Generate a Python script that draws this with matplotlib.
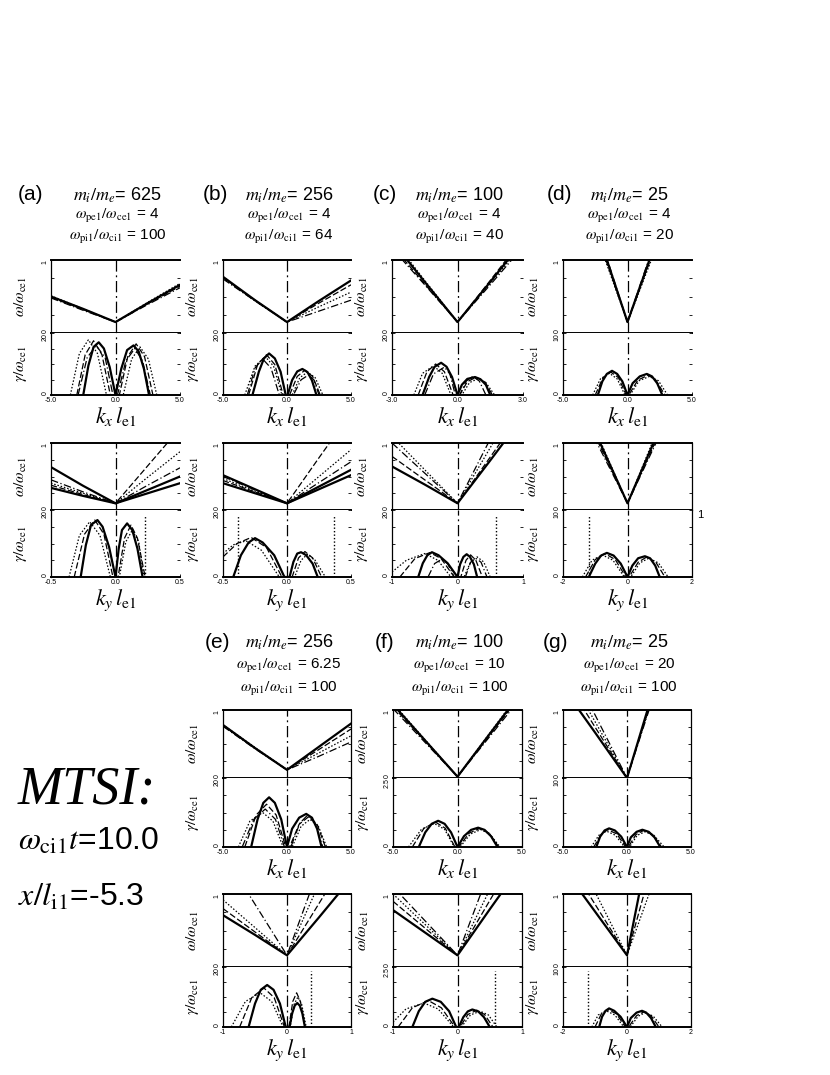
import matplotlib.pyplot as plt

plt.rcParams['mathtext.fontset'] = 'stix'
plt.rcParams['font.family'] = ['Liberation Sans', 'DejaVu Sans']

# ---------------- data ----------------
# omega curves: one k grid per panel, omega/omega_ce1 per curve
# gamma curves: (k list, gamma list) per curve, vertical cut lines in k

# (a) mi/me = 625
a_kx = [-5, -2.5, 0, 2.5, 5]
a_kx_w = [[0.50, 0.33, 0.15, 0.41, 0.66],
          [0.49, 0.32, 0.15, 0.40, 0.64],
          [0.51, 0.33, 0.15, 0.42, 0.68],
          [0.48, 0.31, 0.15, 0.39, 0.62]]
a_kx_g = [([-2.5, -2.1, -1.7, -1.3, -0.9, -0.45, 0, 0.45, 0.9, 1.4, 1.8, 2.2, 2.6],
           [0, 9.5, 15.5, 17, 15, 9, 0, 8.5, 14.5, 16, 14, 8.5, 0]),
          ([-3.0, -2.35, -1.7, -1.05, -0.4, 0.3, 0.95, 1.6, 2.25, 2.9], [0, 13, 17.5, 13, 0, 0, 12.4, 16.5, 12.4, 0]),
          ([-3.5, -2.8, -2.1, -1.4, -0.7, 0.6, 1.25, 1.9, 2.55, 3.2], [0, 13.4, 17.8, 13.4, 0, 0, 11.6, 15.5, 11.6, 0]),
          ([-2.9, -2.2, -1.5, -0.8, -0.2, 0.15, 0.8, 1.5, 2.1, 2.7], [0, 12, 16, 12, 0, 0, 11, 15, 11, 0])]
a_ky = [-0.5, -0.25, 0, 0.25, 0.5]
a_ky_w = [[0.33, 0.21, 0.10, 0.25, 0.40],
          [0.37, 0.23, 0.10, 0.66, 1.22],
          [0.40, 0.25, 0.10, 0.49, 0.87],
          [0.45, 0.27, 0.10, 0.37, 0.63],
          [0.64, 0.36, 0.10, 0.30, 0.50]]
a_ky_g = [([-0.27, -0.23, -0.19, -0.14, -0.1, -0.05, 0, 0.025, 0.05, 0.09, 0.13, 0.17, 0.21],
           [0, 9.5, 15.5, 17, 15, 9, 0, 8.5, 14, 16, 14, 8.5, 0]),
          ([-0.32, -0.24, -0.16, -0.09, -0.02, 0.02, 0.07, 0.12, 0.17, 0.23], [0, 12.8, 17, 12.8, 0, 0, 11.6, 15.5, 11.6, 0]),
          ([-0.36, -0.28, -0.2, -0.12, -0.04, 0.03, 0.08, 0.13, 0.18, 0.22], [0, 12.4, 16.5, 12.4, 0, 0, 10.5, 14, 10.5, 0])]
a_cut = [0.23]

# (b) mi/me = 256
b_kx = [-5, -2.5, 0, 2.5, 5]
b_kx_w = [[0.77, 0.45, 0.15, 0.44, 0.72],
          [0.76, 0.45, 0.15, 0.41, 0.66],
          [0.75, 0.44, 0.15, 0.36, 0.56],
          [0.74, 0.44, 0.15, 0.30, 0.45]]
b_kx_g = [([-2.7, -2.2, -1.8, -1.4, -0.95, -0.5, -0.1, 0.05, 0.4, 0.8, 1.2, 1.6, 1.95, 2.3],
           [0, 7.5, 11.8, 13.4, 11.8, 7.5, 0, 0, 4.8, 7.6, 8.4, 7.4, 4.7, 0]),
          ([-3.0, -2.3, -1.6, -0.95, -0.3, 0.2, 0.8, 1.4, 2.0, 2.6], [0, 9.8, 13, 9.8, 0, 0, 6, 8, 6, 0]),
          ([-3.3, -2.5, -1.7, -1.05, -0.4, 0.4, 1.0, 1.6, 2.2, 2.8], [0, 9.3, 12.4, 9.3, 0, 0, 5.6, 7.4, 5.6, 0]),
          ([-3.1, -2.5, -1.9, -1.25, -0.6, 0.5, 1.1, 1.7, 2.1, 2.5], [0, 8.7, 11.6, 8.7, 0, 0, 4.9, 6.5, 4.9, 0])]
b_ky = [-0.5, -0.25, 0, 0.25, 0.5]
b_ky_w = [[0.40, 0.25, 0.10, 0.31, 0.52],
          [0.44, 0.27, 0.10, 0.78, 1.45],
          [0.47, 0.28, 0.10, 0.50, 0.90],
          [0.50, 0.30, 0.10, 0.41, 0.72],
          [0.52, 0.31, 0.10, 0.35, 0.60]]
b_ky_g = [([-0.42, -0.36, -0.3, -0.25, -0.19, -0.1, -0.02, 0.02, 0.05, 0.08, 0.11, 0.15, 0.2, 0.24],
           [0, 6.5, 10.3, 11.6, 10.3, 6.5, 0, 0, 4.5, 7, 7.4, 6.5, 4, 0]),
          ([-0.5, -0.39, -0.28, -0.16, -0.04, 0.04, 0.09, 0.14, 0.2, 0.27], [6, 10, 11.8, 8.8, 0, 0, 5.7, 7.6, 5.7, 0]),
          ([-0.5, -0.42, -0.32, -0.2, -0.06, 0.06, 0.11, 0.16, 0.22, 0.3], [7, 9.6, 10.8, 8, 0, 0, 5, 6.8, 5, 0])]
b_cut = [-0.38, 0.37]

# (c) mi/me = 100
c_kx = [-3, -1.5, 0, 1.5, 3]
c_kx_w = [[1.26, 0.70, 0.15, 0.70, 1.26],
          [1.20, 0.67, 0.15, 0.72, 1.30],
          [1.30, 0.72, 0.15, 0.68, 1.22],
          [1.16, 0.66, 0.15, 0.66, 1.18]]
c_kx_g = [([-1.6, -1.3, -1.05, -0.75, -0.5, -0.25, 0, 0.2, 0.45, 0.8, 1.05, 1.3, 1.5],
           [0, 5.8, 9.1, 10.4, 9.1, 5.8, 0, 3.3, 5.2, 5.8, 5.1, 3.3, 0]),
          ([-1.8, -1.4, -1.0, -0.6, -0.2, 0.1, 0.45, 0.85, 1.25, 1.6], [0, 7.5, 10, 7.5, 0, 0, 4.3, 5.7, 4.3, 0]),
          ([-2.0, -1.6, -1.1, -0.7, -0.3, 0.2, 0.55, 0.95, 1.3, 1.7], [0, 7, 9.4, 7, 0, 0, 4, 5.3, 4, 0]),
          ([-1.5, -1.1, -0.6, -0.35, -0.1, 0.1, 0.4, 0.7, 1.0, 1.3], [0, 6.8, 9, 6.8, 0, 0, 4.5, 6, 4.5, 0])]
c_ky = [-1, -0.5, 0, 0.5, 1]
c_ky_w = [[0.65, 0.38, 0.10, 0.74, 1.39],
          [0.80, 0.45, 0.10, 0.79, 1.48],
          [1.10, 0.60, 0.10, 0.93, 1.77],
          [1.00, 0.55, 0.10, 1.06, 2.00]]
c_ky_g = [([-0.6, -0.53, -0.46, -0.39, -0.29, -0.15, 0, 0.04, 0.09, 0.14, 0.19, 0.25, 0.3],
           [0, 4.1, 6.5, 7.4, 6.5, 4.1, 0, 3.8, 6.0, 6.8, 6.0, 3.8, 0]),
          ([-0.88, -0.65, -0.42, -0.25, -0.05, 0.05, 0.13, 0.2, 0.28, 0.38], [0, 5.5, 7.3, 5.5, 0, 0, 5, 6.6, 5, 0]),
          ([-1.0, -0.78, -0.5, -0.3, -0.1, 0.1, 0.2, 0.3, 0.4, 0.5], [1.5, 5, 7, 5, 0, 0, 4.5, 6, 4.5, 0]),
          ([-0.45, -0.35, -0.25, -0.15, -0.05, 0.12, 0.2, 0.28, 0.36, 0.45], [0, 4, 5.2, 4, 0, 0, 4.4, 5.6, 4.4, 0])]
c_cut = [0.59]

# (d) mi/me = 25
d_kx = [-5, -2.5, 0, 2.5, 5]
d_kx_w = [[2.80, 1.48, 0.15, 1.40, 2.65],
          [2.70, 1.42, 0.15, 1.35, 2.55],
          [2.60, 1.38, 0.15, 1.30, 2.45],
          [2.90, 1.52, 0.15, 1.45, 2.75]]
d_kx_g = [([-2.3, -1.95, -1.6, -1.2, -0.8, -0.4, 0, 0.4, 0.95, 1.5, 1.9, 2.3, 2.7],
           [0, 2.2, 3.4, 3.9, 3.4, 2.2, 0, 1.9, 3.0, 3.4, 3.0, 1.9, 0]),
          ([-2.5, -1.9, -1.3, -0.7, -0.1, 0.1, 0.8, 1.6, 2.2, 2.9], [0, 2.8, 3.7, 2.8, 0, 0, 2.4, 3.2, 2.4, 0]),
          ([-2.7, -2.1, -1.4, -0.8, -0.2, 0.2, 0.9, 1.7, 2.4, 3.1], [0, 2.6, 3.5, 2.6, 0, 0, 2.3, 3.0, 2.3, 0])]
d_ky = [-2, -1, 0, 1, 2]
d_ky_w = [[2.2, 1.16, 0.10, 1.22, 2.30],
          [2.1, 1.10, 0.10, 1.16, 2.20],
          [2.3, 1.20, 0.10, 1.28, 2.45],
          [2.0, 1.05, 0.10, 1.12, 2.10]]
d_ky_g = [([-1.2, -1.0, -0.82, -0.64, -0.43, -0.21, 0, 0.15, 0.33, 0.54, 0.7, 0.86, 1.0],
           [0, 2.0, 3.2, 3.6, 3.2, 2.0, 0, 1.7, 2.8, 3.1, 2.8, 1.7, 0]),
          ([-1.3, -1.0, -0.7, -0.38, -0.05, 0.05, 0.33, 0.6, 0.88, 1.16], [0, 2.6, 3.5, 2.6, 0, 0, 2.2, 3.0, 2.2, 0]),
          ([-1.4, -1.1, -0.78, -0.45, -0.1, 0.1, 0.38, 0.66, 0.96, 1.26], [0, 2.5, 3.3, 2.5, 0, 0, 2.1, 2.8, 2.1, 0])]
d_cut = [-1.2]

# (e) mi/me = 256, wpe/wce = 6.25
e_kx = [-5, -2.5, 0, 2.5, 5]
e_kx_w = [[0.78, 0.44, 0.12, 0.46, 0.80],
          [0.77, 0.44, 0.12, 0.42, 0.72],
          [0.78, 0.45, 0.12, 0.37, 0.62],
          [0.76, 0.43, 0.12, 0.32, 0.53]]
e_kx_g = [([-2.8, -2.3, -1.85, -1.4, -0.95, -0.45, 0, 0.4, 0.95, 1.5, 1.95, 2.35, 2.7],
           [0, 8, 12.8, 14.4, 12.8, 8, 0, 5.3, 8.5, 9.6, 8.5, 5.3, 0]),
          ([-3.3, -2.4, -1.6, -0.85, -0.1, 0.2, 0.95, 1.7, 2.35, 3.0], [0, 9.3, 12.4, 9.3, 0, 0, 6.6, 8.8, 6.6, 0]),
          ([-3.8, -2.9, -1.9, -1.1, -0.3, 0.4, 1.1, 1.8, 2.45, 3.1], [0, 7.5, 10, 7.5, 0, 0, 6, 8, 6, 0]),
          ([-3.5, -2.6, -1.7, -0.9, -0.2, 0.3, 1.0, 1.6, 2.2, 2.8], [0, 8, 11, 8, 0, 0, 6.9, 9.2, 6.9, 0])]
e_ky = [-1, -0.5, 0, 0.5, 1]
e_ky_w = [[0.71, 0.44, 0.16, 0.68, 1.21],
          [0.80, 0.48, 0.16, 0.87, 1.58],
          [0.92, 0.54, 0.16, 1.14, 2.10],
          [1.56, 0.86, 0.16, 1.36, 2.56]]
e_ky_g = [([-0.6, -0.5, -0.41, -0.31, -0.21, -0.11, -0.02, 0.04, 0.08, 0.12, 0.16, 0.2, 0.24, 0.28],
           [0, 7.8, 12.4, 14, 12.4, 7.8, 0, 0, 4.5, 7.1, 8, 7.1, 4.5, 0]),
          ([-0.74, -0.55, -0.36, -0.2, -0.04, 0.03, 0.09, 0.15, 0.21, 0.28], [0, 9.8, 13, 9.8, 0, 0, 8.5, 11.4, 8.5, 0]),
          ([-0.87, -0.65, -0.42, -0.24, -0.06, 0.05, 0.11, 0.17, 0.23, 0.3], [0, 8.5, 11.4, 8.5, 0, 0, 7.5, 10, 7.5, 0])]
e_cut = [0.38]

# (f) mi/me = 100, wpe/wce = 10
f_kx = [-5, -2.5, 0, 2.5, 5]
f_kx_w = [[1.08, 0.55, 0.02, 0.65, 1.27],
          [1.05, 0.54, 0.02, 0.63, 1.24],
          [1.10, 0.56, 0.02, 0.66, 1.30],
          [1.02, 0.52, 0.02, 0.61, 1.20]]
f_kx_g = [([-3.0, -2.5, -2.0, -1.5, -1.0, -0.5, 0, 0.5, 1.05, 1.6, 2.1, 2.6, 3.1],
           [0, 0.53, 0.84, 0.95, 0.84, 0.53, 0, 0.39, 0.62, 0.7, 0.62, 0.39, 0]),
          ([-3.5, -2.6, -1.7, -0.95, -0.2, 0.1, 0.9, 1.7, 2.45, 3.2], [0, 0.68, 0.9, 0.68, 0, 0, 0.5, 0.67, 0.5, 0]),
          ([-3.8, -2.8, -1.8, -1.0, -0.25, 0.2, 1.0, 1.8, 2.5, 3.3], [0, 0.64, 0.85, 0.64, 0, 0, 0.47, 0.63, 0.47, 0])]
f_ky = [-1, -0.5, 0, 0.5, 1]
f_ky_w = [[0.78, 0.47, 0.16, 0.79, 1.41],
          [0.90, 0.53, 0.16, 0.91, 1.66],
          [1.00, 0.58, 0.16, 1.06, 1.95],
          [1.10, 0.63, 0.16, 1.33, 2.49]]
f_ky_g = [([-0.7, -0.6, -0.5, -0.39, -0.26, -0.13, -0.02, 0.02, 0.09, 0.16, 0.23, 0.32, 0.41, 0.5],
           [0, 0.66, 1.05, 1.18, 1.05, 0.66, 0, 0, 0.41, 0.65, 0.73, 0.65, 0.41, 0]),
          ([-0.92, -0.7, -0.45, -0.25, -0.04, 0.04, 0.16, 0.3, 0.42, 0.55], [0, 0.8, 1.1, 0.8, 0, 0, 0.52, 0.7, 0.52, 0]),
          ([-1.0, -0.8, -0.52, -0.3, -0.06, 0.06, 0.2, 0.35, 0.48, 0.61], [0.2, 0.75, 1.0, 0.75, 0, 0, 0.5, 0.66, 0.5, 0])]
f_cut = [0.58]

# (g) mi/me = 25, wpe/wce = 20
g_kx = [-5, -2.5, 0, 2.5, 5]
g_kx_w = [[1.33, 0.67, 0.0, 1.56, 3.10],
          [1.50, 0.75, 0.0, 1.52, 3.00],
          [1.65, 0.83, 0.0, 1.48, 2.95],
          [1.85, 0.93, 0.0, 1.45, 2.90]]
g_kx_g = [([-2.4, -2.1, -1.75, -1.4, -0.95, -0.45, 0, 0.3, 0.75, 1.2, 1.7, 2.15, 2.6],
           [0, 1.5, 2.4, 2.7, 2.4, 1.5, 0, 1.4, 2.2, 2.5, 2.2, 1.4, 0]),
          ([-2.6, -2.0, -1.5, -0.8, -0.1, 0.1, 0.7, 1.3, 2.0, 2.7], [0, 1.9, 2.5, 1.9, 0, 0, 1.8, 2.4, 1.8, 0]),
          ([-2.8, -2.2, -1.6, -0.9, -0.2, 0.2, 0.8, 1.4, 2.1, 2.9], [0, 1.7, 2.3, 1.7, 0, 0, 1.7, 2.2, 1.7, 0])]
g_ky = [-2, -1, 0, 1, 2]
g_ky_w = [[1.36, 0.76, 0.16, 2.37, 4.6],
          [1.56, 0.86, 0.16, 1.74, 3.3],
          [1.90, 1.03, 0.16, 1.38, 2.6]]
g_ky_g = [([-0.87, -0.78, -0.67, -0.56, -0.4, -0.2, 0, 0.12, 0.3, 0.47, 0.6, 0.75, 0.9],
           [0, 1.7, 2.7, 3.1, 2.7, 1.7, 0, 1.5, 2.4, 2.7, 2.4, 1.5, 0]),
          ([-1.0, -0.8, -0.6, -0.33, -0.05, 0.05, 0.3, 0.52, 0.75, 1.0], [0, 2.2, 2.9, 2.2, 0, 0, 1.9, 2.5, 1.9, 0]),
          ([-1.1, -0.9, -0.65, -0.38, -0.1, 0.1, 0.35, 0.57, 0.82, 1.1], [0, 2.0, 2.7, 2.0, 0, 0, 1.8, 2.4, 1.8, 0])]
g_cut = [-1.22]

names = ['a', 'b', 'c', 'd', 'e', 'f', 'g']
mass_ratio = ['625', '256', '100', '25', '256', '100', '25']
wpe_wce = ['4', '4', '4', '4', '6.25', '10', '20']
wpi_wci = ['100', '64', '40', '20', '100', '100', '100']
gamma_top = [20, 20, 20, 10, 20, 2.5, 10]
kx_max = [5, 5, 3, 5, 5, 5, 5]
kx_labels = [['-5.0', '0.0', '5.0'], ['-5.0', '0.0', '5.0'], ['-3.0', '0.0', '3.0'], ['-5.0', '0.0', '5.0'],
             ['-5.0', '0.0', '5.0'], ['-5.0', '0.0', '5.0'], ['-5.0', '0.0', '5.0']]
ky_max = [0.5, 0.5, 1, 2, 1, 1, 2]
ky_labels = [['-0.5', '0.0', '0.5'], ['-0.5', '0.0', '0.5'], ['-1', '0', '1'], ['-2', '0', '2'],
             ['-1', '0', '1'], ['-1', '0', '1'], ['-2', '0', '2']]

kx_data = [(a_kx, a_kx_w, a_kx_g), (b_kx, b_kx_w, b_kx_g), (c_kx, c_kx_w, c_kx_g), (d_kx, d_kx_w, d_kx_g),
           (e_kx, e_kx_w, e_kx_g), (f_kx, f_kx_w, f_kx_g), (g_kx, g_kx_w, g_kx_g)]
ky_data = [(a_ky, a_ky_w, a_ky_g, a_cut), (b_ky, b_ky_w, b_ky_g, b_cut), (c_ky, c_ky_w, c_ky_g, c_cut),
           (d_ky, d_ky_w, d_ky_g, d_cut), (e_ky, e_ky_w, e_ky_g, e_cut), (f_ky, f_ky_w, f_ky_g, f_cut),
           (g_ky, g_ky_w, g_ky_g, g_cut)]

# ---------------- layout (pixels) ----------------
W, H = 830, 1075
cols = [(51, 180), (223, 351), (392, 523), (563, 692), (223, 351), (393, 522), (563, 691)]
tag_x = [18, 203, 373, 547, 205, 375, 543]
row_of = [0, 0, 0, 0, 1, 1, 1]
# (omega top, separator, gamma bottom) for kx and ky blocks
rows_kx = [(260, 333, 395), (710, 778, 847)]
rows_ky = [(443, 510, 577), (894, 967, 1027)]
title_y = [(195, 216, 237), (642, 666, 689)]
rspine_kx = [False, False, False, False, True, True, True]
rspine_ky = [False, False, False, True, True, True, True]

styles = ['-', (0, (5, 2)), (0, (1.2, 1.5)), (0, (6, 2, 1, 2))]
widths = [1.6, 0.9, 0.9, 0.9]

fig = plt.figure(figsize=(8.3, 10.75), dpi=100)


def box(l, r, t, b):
    return [l / W, 1 - b / H, (r - l) / W, (b - t) / H]


def fmt_top(v):
    return str(v) if v != int(v) else str(int(v))


def draw_pair(i, rows, kgrid, wcur, gcur, cuts, kmax, klab, xlabel, rspine):
    x0, x1 = cols[i]
    top, mid, bot = rows
    axw = fig.add_axes(box(x0, x1, top, mid))
    axg = fig.add_axes(box(x0, x1, mid, bot))
    for j, w in enumerate(wcur):
        axw.plot(kgrid, w, color='k', ls=styles[j % 4], lw=widths[j % 4])
    for j, (k, g) in enumerate(gcur):
        axg.plot(k, g, color='k', ls=styles[j % 4], lw=widths[j % 4])
    for c in cuts:
        axg.axvline(c, ymax=0.93, color='k', ls=(0, (1, 1.5)), lw=1.0)
    gtop = gamma_top[i]
    for ax in (axw, axg):
        ax.set_xlim(-kmax, kmax)
        ax.axvline(0, color='k', lw=0.9, ls=(0, (9, 3, 1.5, 3)))
        ax.tick_params(direction='in', length=2.5, width=0.6, labelsize=5, right=True, pad=1.5)
        ax.spines['top'].set_linewidth(1.4)
        ax.spines['bottom'].set_linewidth(1.4)
        ax.spines['left'].set_linewidth(0.9)
        ax.spines['right'].set_linewidth(0.9)
        ax.spines['right'].set_visible(rspine)
        ax.set_xticks([-kmax, 0, kmax])
        ax.yaxis.set_label_coords(-22 / (x1 - x0), 0.5)
    axg.spines['top'].set_visible(False)
    axw.set_ylim(0, 1)
    axw.set_yticks([0, 0.25, 0.5, 0.75, 1])
    axw.set_yticklabels(['0', '', '', '', '1'], rotation=90)
    for t, va in zip(axw.get_yticklabels(), ['bottom', 'center', 'center', 'center', 'top']):
        t.set_va(va)
    axw.tick_params(axis='x', length=0, labelbottom=False)
    axg.set_ylim(0, gtop)
    axg.set_yticks([0, gtop / 4, gtop / 2, 3 * gtop / 4, gtop])
    axg.set_yticklabels(['0', '', '', '', fmt_top(gtop)], rotation=90)
    for t, va in zip(axg.get_yticklabels(), ['bottom', 'center', 'center', 'center', 'top']):
        t.set_va(va)
    axg.set_xticklabels(klab)
    axg.set_xlabel(xlabel, fontsize=16, labelpad=1)
    axw.set_ylabel(r'$\omega/\omega_{\rm ce1}$', fontsize=11)
    axg.set_ylabel(r'$\gamma/\omega_{\rm ce1}$', fontsize=11)
    return axw, axg


for i, n in enumerate(names):
    r = row_of[i]
    kgrid, wcur, gcur = kx_data[i]
    draw_pair(i, rows_kx[r], kgrid, wcur, gcur, [], kx_max[i], kx_labels[i],
              r'$k_x\,l_{\rm e1}$', rspine_kx[i])
    kgrid, wcur, gcur, cuts = ky_data[i]
    draw_pair(i, rows_ky[r], kgrid, wcur, gcur, cuts, ky_max[i], ky_labels[i],
              r'$k_y\,l_{\rm e1}$', rspine_ky[i])

    # titles
    x0, x1 = cols[i]
    xc = (x0 + x1) / 2 + 2
    y1, y2, y3 = title_y[r]
    fig.text(tag_x[i] / W, 1 - y1 / H, '(%s)' % n, fontsize=15, ha='left', va='center')
    fig.text(xc / W, 1 - y1 / H, r'$m_i/m_e$' + '= ' + mass_ratio[i], fontsize=13, ha='center', va='center')
    fig.text(xc / W, 1 - y2 / H, r'$\omega_{\rm pe1}/\omega_{\rm ce1}$' + ' = ' + wpe_wce[i],
             fontsize=11, ha='center', va='center')
    fig.text(xc / W, 1 - y3 / H, r'$\omega_{\rm pi1}/\omega_{\rm ci1}$' + ' = ' + wpi_wci[i],
             fontsize=11, ha='center', va='center')

# right-hand label on (d)
fig.text(697 / W, 1 - 515 / H, '1', fontsize=8, ha='left', va='center')

# left annotation
fig.text(18 / W, 1 - 790 / H, 'MTSI:', fontsize=39, family='Liberation Serif', style='italic',
         ha='left', va='center')
fig.text(18 / W, 1 - 842 / H, r'$\omega_{\rm ci1}t$' + '=10.0', fontsize=23, ha='left', va='center')
fig.text(18 / W, 1 - 898 / H, r'$x/l_{\rm i1}$' + '=-5.3', fontsize=23, ha='left', va='center')

fig.savefig('out.png', dpi=100, facecolor='white')
